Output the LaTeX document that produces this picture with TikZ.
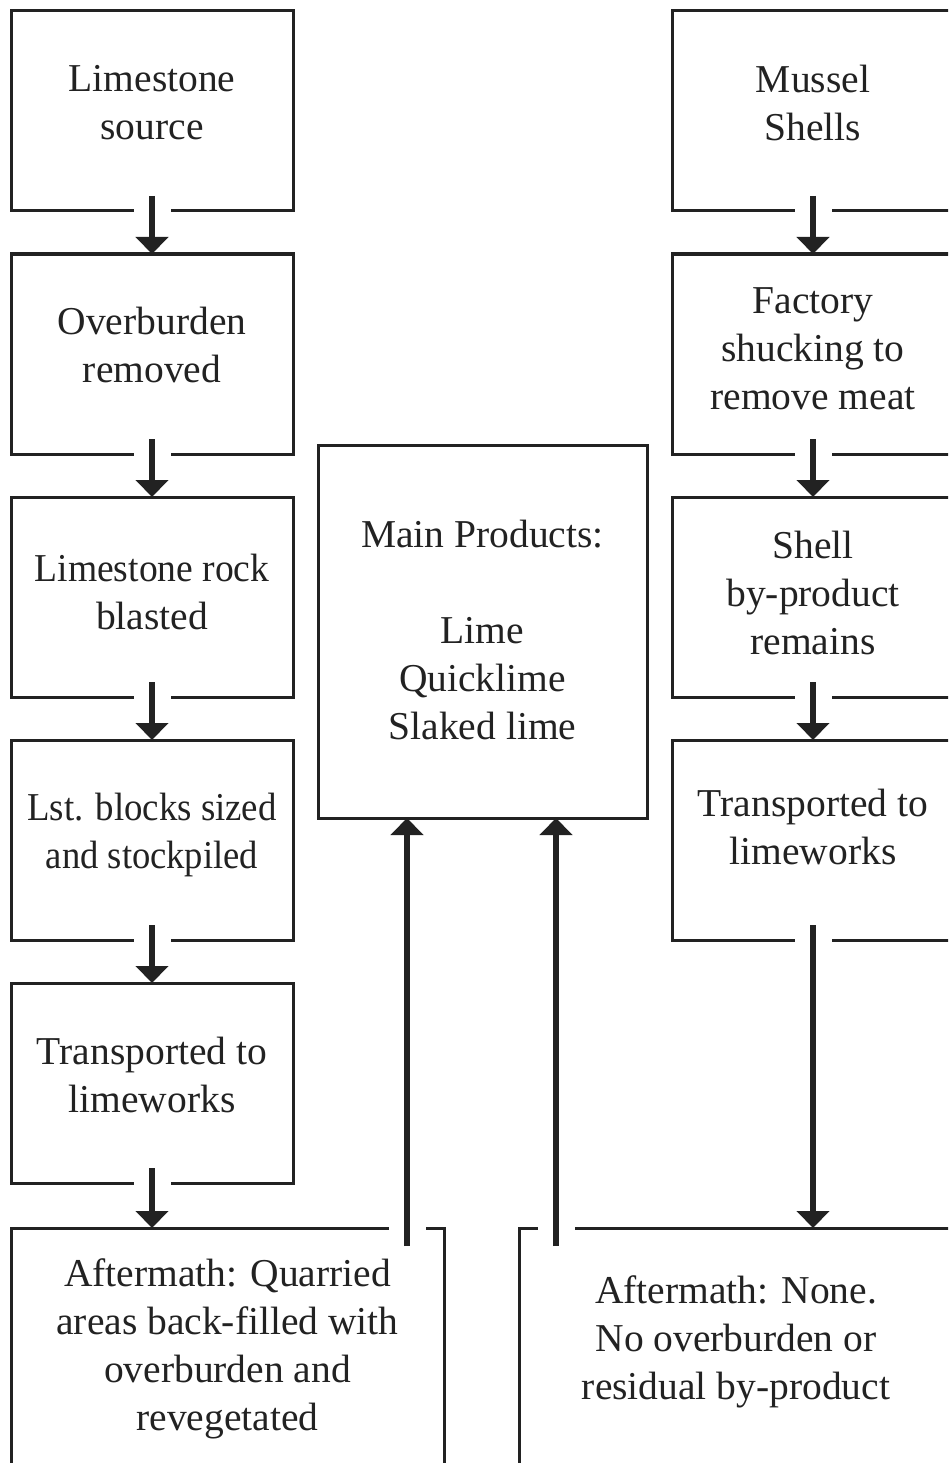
\documentclass[tikz,border=0pt]{standalone}
\usepackage{fontspec}
\usepackage{graphicx}
\setmainfont{Liberation Serif}
\usetikzlibrary{arrows.meta}
\definecolor{ink}{HTML}{222222}
% tighter set for the lines that nearly fill their box
\newcommand{\tightline}[2]{\scalebox{#1}[1]{#2}}

\begin{document}
\begin{tikzpicture}[x=1pt,y=-1pt,
  box/.style={draw=ink, line width=3pt, outer sep=0pt, inner sep=0pt,
              minimum width=282pt, minimum height=200pt},
  txt/.style={align=center, text=ink, inner sep=0pt,
              font=\fontsize{39.5}{48}\selectfont},
  flow/.style={draw=ink, line width=6pt, -{Triangle[width=32pt,length=17pt]}},
  gapfill/.style={fill=white}]

% page frame
\useasboundingbox (0,0) rectangle (948,1463);
\fill[white] (0,0) rectangle (948,1463);
\clip (0,0) rectangle (948,1463);

% limestone chain
\node[box] (L1) at (152,111)  {};
\node[box] (L2) at (152,354)  {};
\node[box] (L3) at (152,597)  {};
\node[box] (L4) at (152,840)  {};
\node[box] (L5) at (152,1083) {};

% mussel shell chain
\node[box] (R1) at (813,111) {};
\node[box] (R2) at (813,354) {};
\node[box] (R3) at (813,597) {};
\node[box] (R4) at (813,840) {};

% products and aftermath boxes
\node[box, minimum width=329pt, minimum height=373pt] (M)  at (482.5,631.5) {};
\node[box, minimum width=433pt, minimum height=300pt] (LA) at (227.5,1378) {};
\node[box, minimum width=434pt, minimum height=300pt] (RA) at (736,1378) {};

% labels
\node[txt] (t1)  at (152,102.5)  {Limestone\\source};
\node[txt] (t2)  at (152,345)    {Overburden\\removed};
\node[txt] (t3)  at (152,592)    {\tightline{0.951}{Limestone rock}\\blasted};
\node[txt] (t4)  at (152,835)    {\tightline{0.932}{Lst. blocks sized}\\\tightline{0.926}{and stockpiled}};
\node[txt] (t5)  at (152,1075)   {Transported to\\limeworks};
\node[txt] (t6)  at (813,102.5)  {Mussel\\Shells};
\node[txt] (t7)  at (813,349)    {Factory\\shucking to\\remove meat};
\node[txt] (t8)  at (813,593)    {Shell\\by-product\\remains};
\node[txt] (t9)  at (813,827)    {Transported to\\limeworks};
\node[txt] (t10) at (482.5,629.5) {Main Products:\\[48pt]Lime\\Quicklime\\Slaked lime};
\node[txt] (t11) at (227.5,1349) {Aftermath: Quarried\\areas back-filled with\\overburden and\\revegetated};
\node[txt] (t12) at (736,1342)   {Aftermath: None.\\No overburden or\\residual by-product};

% start points of the two upward flows
\coordinate (u1) at (407,1246);
\coordinate (u2) at (556,1246);
\coordinate (g1) at (u1 |- LA.north);
\coordinate (g2) at (u2 |- RA.north);

% openings in the borders where the flows pass
\foreach \n in {L1,L2,L3,L4,L5,R1,R2,R3,R4}
  \fill[gapfill] ([xshift=-18.5pt,yshift=-3pt]\n.south) rectangle ([xshift=18.5pt,yshift=3pt]\n.south);
\foreach \n in {g1,g2}
  \fill[gapfill] ([xshift=-18.5pt,yshift=-3pt]\n) rectangle ([xshift=18.5pt,yshift=3pt]\n);

% flows
\draw[flow] ([yshift=15pt]L1.south) -- (L2.north);
\draw[flow] ([yshift=15pt]L2.south) -- (L3.north);
\draw[flow] ([yshift=15pt]L3.south) -- (L4.north);
\draw[flow] ([yshift=15pt]L4.south) -- (L5.north);
\draw[flow] ([yshift=15pt]L5.south) -- (L5.south |- LA.north);
\draw[flow] ([yshift=15pt]R1.south) -- (R2.north);
\draw[flow] ([yshift=15pt]R2.south) -- (R3.north);
\draw[flow] ([yshift=15pt]R3.south) -- (R4.north);
\draw[flow] ([yshift=15pt]R4.south) -- (R4.south |- RA.north);
\draw[flow] (u1) -- (u1 |- M.south);
\draw[flow] (u2) -- (u2 |- M.south);
\end{tikzpicture}
\end{document}
